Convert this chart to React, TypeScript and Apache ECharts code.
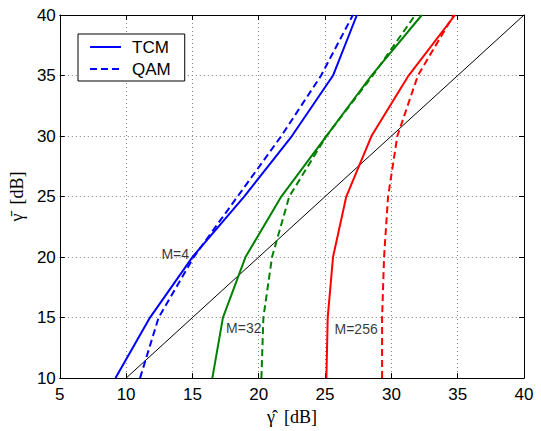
import React, { useEffect, useRef } from "react";
import * as echarts from "echarts";

const yLevels = [10, 15, 20, 25, 30, 35, 40];
const tcm4 = [9.2, 11.8, 15.0, 18.9, 22.5, 25.6, 27.4];
const qam4 = [11.05, 12.45, 15.1, 18.4, 21.7, 24.7, 27.1];
const tcm32 = [16.5, 17.3, 19.0, 21.7, 25.1, 28.5, 32.3];
const qam32 = [20.2, 20.35, 21.0, 22.3, 25.1, 28.6, 31.8];
const tcm256 = [25.1, 25.2, 25.6, 26.6, 28.5, 31.3, 34.8];
const qam256 = [29.3, 29.3, 29.45, 29.75, 30.45, 32.0, 34.7];
const refLine = [[10, 10], [40, 40]];
const labels = [
  { name: "M=4", value: [13.7, 20.25] },
  { name: "M=32", value: [18.87, 14.15] },
  { name: "M=256", value: [27.34, 14.07] },
];

const SANS = "'Liberation Sans', Arial, Helvetica, sans-serif";
const SERIF = "'Liberation Serif', 'DejaVu Serif', serif";

const toPts = (xs: number[]) => xs.map((x, i) => [x, yLevels[i]]);

export default function App() {
  const ref = useRef<HTMLDivElement>(null);
  useEffect(() => {
    if (!ref.current) return;
    document.body.style.margin = "0";
    const chart = echarts.init(ref.current, null, { renderer: "svg" });
    const lineSeries = (name: string, data: number[], color: string, dashed: boolean) => ({
      type: "line",
      name,
      data: toPts(data),
      showSymbol: false,
      symbol: "none",
      lineStyle: { color, width: 2, type: dashed ? [7, 4] : "solid" },
      itemStyle: { color },
      z: 3,
    });
    chart.setOption({
      animation: false,
      backgroundColor: "#fff",
      grid: { left: 57, right: 17, top: 15, bottom: 47, show: false },
      legend: {
        data: ["TCM", "QAM"],
        orient: "vertical",
        left: 78,
        top: 34,
        itemWidth: 31,
        itemHeight: 14,
        itemGap: 4,
        padding: [4, 14, 3, 11],
        borderColor: "#000",
        borderWidth: 1,
        borderRadius: 0,
        backgroundColor: "#fff",
        itemStyle: { opacity: 0 },
        textStyle: { fontFamily: SANS, fontSize: 17, color: "#000", lineHeight: 18, padding: [0, 0, 0, 6] },
      },
      xAxis: [
        {
          type: "value",
          min: 5,
          max: 40,
          interval: 5,
          name: "\u03B3\u0302  [dB]",
          nameLocation: "middle",
          nameGap: 22,
          nameTextStyle: { fontFamily: SERIF, fontSize: 18, color: "#000" },
          axisLine: { show: true, onZero: false, lineStyle: { color: "#000", width: 1 } },
          axisTick: { show: true, inside: true, length: 5, lineStyle: { color: "#000" } },
          axisLabel: { margin: 8, fontFamily: SANS, fontSize: 17, color: "#000" },
          splitLine: { show: true, lineStyle: { color: "#808080", type: [1, 3], width: 1 } },
        },
        {
          type: "value",
          position: "top",
          min: 5,
          max: 40,
          interval: 5,
          axisLine: { show: true, onZero: false, lineStyle: { color: "#000", width: 1 } },
          axisTick: { show: true, inside: true, length: 5, lineStyle: { color: "#000" } },
          axisLabel: { show: false },
          splitLine: { show: false },
        },
      ],
      yAxis: [
        {
          type: "value",
          min: 10,
          max: 40,
          interval: 5,
          name: "\u03B3\u0304  [dB]",
          nameLocation: "middle",
          nameGap: 25,
          nameRotate: 90,
          nameTextStyle: { fontFamily: SERIF, fontSize: 18, color: "#000" },
          axisLine: { show: true, onZero: false, lineStyle: { color: "#000", width: 1 } },
          axisTick: { show: true, inside: true, length: 5, lineStyle: { color: "#000" } },
          axisLabel: { margin: 4, fontFamily: SANS, fontSize: 17, color: "#000" },
          splitLine: { show: true, lineStyle: { color: "#808080", type: [1, 3], width: 1 } },
        },
        {
          type: "value",
          position: "right",
          min: 10,
          max: 40,
          interval: 5,
          axisLine: { show: true, onZero: false, lineStyle: { color: "#000", width: 1 } },
          axisTick: { show: true, inside: true, length: 5, lineStyle: { color: "#000" } },
          axisLabel: { show: false },
          splitLine: { show: false },
        },
      ],
      series: [
        {
          type: "line",
          name: "ref",
          data: refLine,
          showSymbol: false,
          symbol: "none",
          lineStyle: { color: "#000", width: 1 },
          z: 2,
        },
        lineSeries("TCM", tcm4, "#0000ff", false),
        lineSeries("QAM", qam4, "#0000ff", true),
        lineSeries("TCM M=32", tcm32, "#008000", false),
        lineSeries("QAM M=32", qam32, "#008000", true),
        lineSeries("TCM M=256", tcm256, "#ff0000", false),
        lineSeries("QAM M=256", qam256, "#ff0000", true),
        {
          type: "scatter",
          name: "labels",
          data: labels,
          symbolSize: 0,
          z: 5,
          label: {
            show: true,
            position: "inside",
            formatter: (p: any) => p.name,
            fontFamily: SANS,
            fontSize: 14,
            color: "#000",
          },
        },
      ],
    });
    return () => chart.dispose();
  }, []);
  return <div ref={ref} style={{ width: 541, height: 431 }} />;
}
